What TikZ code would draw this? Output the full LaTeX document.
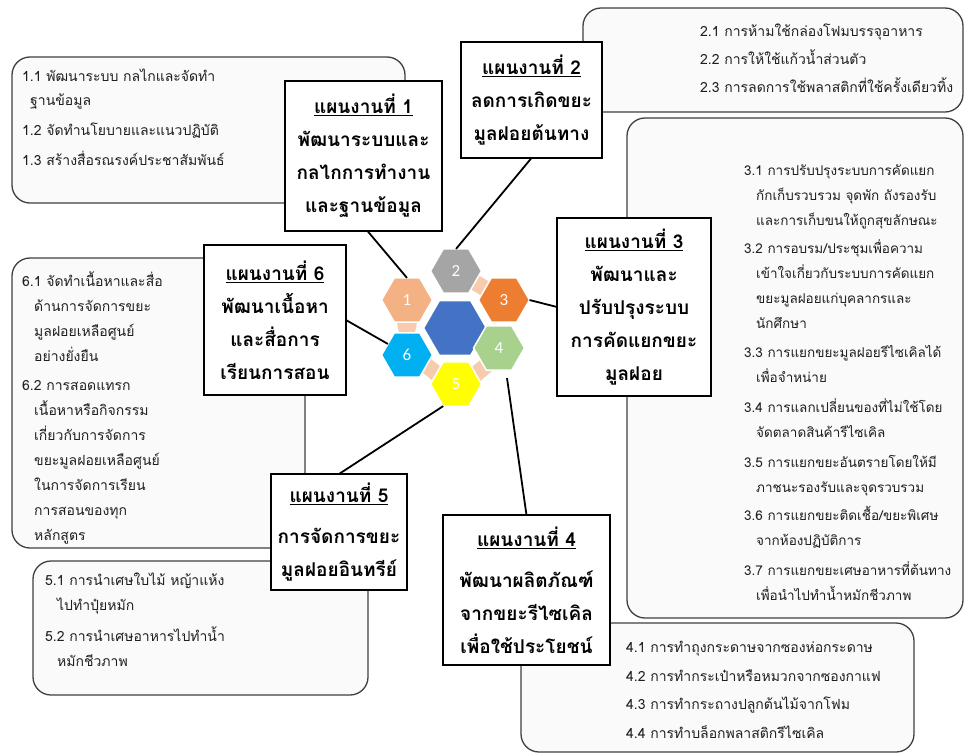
\documentclass[tikz,border=0pt]{standalone}
\usepackage{fontspec}
\setmainfont{Loma}[Script=Thai]
\newfontfamily\numfont{Carlito}
\usetikzlibrary{shapes.geometric,calc}
\definecolor{boxfill}{HTML}{FAFAFA}
\definecolor{boxline}{HTML}{404040}
\definecolor{hexA}{HTML}{F4B183}
\definecolor{hexB}{HTML}{A5A5A5}
\definecolor{hexC}{HTML}{ED7D31}
\definecolor{hexD}{HTML}{A9D18E}
\definecolor{hexE}{HTML}{FFFF00}
\definecolor{hexF}{HTML}{00B0F0}
\definecolor{hexM}{HTML}{4472C4}
\definecolor{pinkc}{HTML}{F8CBAD}
\newcommand{\ind}{\hspace*{12pt}}
\newcommand{\hd}[1]{{\fontsize{19}{33}\selectfont\underline{#1}}}
\newenvironment{lst}{\begin{tabular}[t]{@{}l@{}}}{\end{tabular}}
\tikzset{
  listbox/.style={draw=boxline, fill=boxfill, line width=1.3pt, rounded corners=18pt, inner sep=0pt, outer sep=0pt},
  titlebox/.style={draw=black, fill=white, line width=2.2pt, inner sep=0pt, outer sep=0pt, align=center, font=\bfseries\fontsize{19}{33}\selectfont},
  items/.style={anchor=base west, inner sep=0pt, text=black!88},
  hexbase/.style={regular polygon, regular polygon sides=6, draw=white, line width=1.5pt, inner sep=0pt, outer sep=0pt, text=white, font=\numfont\fontsize{17}{17}\selectfont},
  link/.style={draw=black, line width=1.8pt}
}
\begin{document}
\begin{tikzpicture}[x=1pt,y=-1pt]
\useasboundingbox (0,0) rectangle (965,755);
\fill[white] (0,0) rectangle (965,755);
% list boxes
\node[listbox, minimum width=393pt, minimum height=146pt] (b1) at (208.5,130) {};
\node[listbox, minimum width=380pt, minimum height=104pt] (b2) at (773,60) {};
\node[listbox, minimum width=336pt, minimum height=500pt] (b3) at (795,368) {};
\node[listbox, minimum width=393pt, minimum height=129pt] (b4) at (717.5,687.5) {};
\node[listbox, minimum width=335pt, minimum height=134pt] (b5) at (200.5,628) {};
\node[listbox, minimum width=293pt, minimum height=290pt] (b6) at (158.5,403) {};
% list texts
\node[items, font=\fontsize{14}{24}\selectfont] (b1t) at (22,81) {\begin{lst}1.1 พัฒนาระบบ กลไกและจัดทำ\\\hspace*{8pt}ฐานข้อมูล\\[6pt]1.2 จัดทำนโยบายและแนวปฏิบัติ\\[6pt]1.3 สร้างสื่อรณรงค์ประชาสัมพันธ์\end{lst}};
\node[items, font=\fontsize{14}{28}\selectfont] (b2t) at (700,36) {\begin{lst}2.1 การห้ามใช้กล่องโฟมบรรจุอาหาร\\2.2 การให้ใช้แก้วน้ำส่วนตัว\\2.3 การลดการใช้พลาสติกที่ใช้ครั้งเดียวทิ้ง\end{lst}};
\node[items, font=\fontsize{13.5}{25}\selectfont] (b3t) at (744,175.5) {\begin{lst}3.1 การปรับปรุงระบบการคัดแยก\\\ind กักเก็บรวบรวม จุดพัก ถังรองรับ\\\ind และการเก็บขนให้ถูกสุขลักษณะ\\[3pt]3.2 การอบรม/ประชุมเพื่อความ\\\ind เข้าใจเกี่ยวกับระบบการคัดแยก\\\ind ขยะมูลฝอยแก่บุคลากรและ\\\ind นักศึกษา\\[4pt]3.3 การแยกขยะมูลฝอยรีไซเคิลได้\\\ind เพื่อจำหน่าย\\[5pt]3.4 การแลกเปลี่ยนของที่ไม่ใช้โดย\\\ind จัดตลาดสินค้ารีไซเคิล\\[5pt]3.5 การแยกขยะอันตรายโดยให้มี\\\ind ภาชนะรองรับและจุดรวบรวม\\[3pt]3.6 การแยกขยะติดเชื้อ/ขยะพิเศษ\\\ind จากห้องปฏิบัติการ\\[5pt]3.7 การแยกขยะเศษอาหารที่ต้นทาง\\\ind เพื่อนำไปทำน้ำหมักชีวภาพ\end{lst}};
\node[items, font=\fontsize{14}{28.5}\selectfont] (b4t) at (626,652.5) {\begin{lst}4.1 การทำถุงกระดาษจากซองห่อกระดาษ\\4.2 การทำกระเป๋าหรือหมวกจากซองกาแฟ\\4.3 การทำกระถางปลูกต้นไม้จากโฟม\\4.4 การทำบล็อกพลาสติกรีไซเคิล\end{lst}};
\node[items, font=\fontsize{14}{25}\selectfont] (b5t) at (45,585) {\begin{lst}5.1 การนำเศษใบไม้ หญ้าแห้ง\\\ind ไปทำปุ๋ยหมัก\\[6pt]5.2 การนำเศษอาหารไปทำน้ำ\\\ind หมักชีวภาพ\end{lst}};
\node[items, font=\fontsize{14}{25}\selectfont] (b6t) at (22,286.5) {\begin{lst}6.1 จัดทำเนื้อหาและสื่อ\\\ind ด้านการจัดการขยะ\\\ind มูลฝอยเหลือศูนย์\\\ind อย่างยั่งยืน\\[4pt]6.2 การสอดแทรก\\\ind เนื้อหาหรือกิจกรรม\\\ind เกี่ยวกับการจัดการ\\\ind ขยะมูลฝอยเหลือศูนย์\\\ind ในการจัดการเรียน\\\ind การสอนของทุก\\\ind หลักสูตร\end{lst}};
% title boxes
\node[titlebox, minimum width=157pt, minimum height=150pt] (t1) at (363.5,156) {\hd{แผนงานที่ 1}\\พัฒนาระบบและ\\กลไกการทำงาน\\และฐานข้อมูล};
\node[titlebox, minimum width=141pt, minimum height=116pt] (t2) at (531.5,100) {\hd{แผนงานที่ 2}\\ลดการเกิดขยะ\\มูลฝอยต้นทาง};
\node[titlebox, minimum width=154pt, minimum height=178pt] (t3) at (634,307) {\hd{แผนงานที่ 3}\\พัฒนาและ\\ปรับปรุงระบบ\\การคัดแยกขยะ\\มูลฝอย};
\node[titlebox, minimum width=167pt, minimum height=150pt] (t4) at (526.5,590) {\hd{แผนงานที่ 4}\\[8pt]พัฒนาผลิตภัณฑ์\\จากขยะรีไซเคิล\\เพื่อใช้ประโยชน์};
\node[titlebox, minimum width=136pt, minimum height=116pt] (t5) at (339,532) {\hd{แผนงานที่ 5}\\[8pt]การจัดการขยะ\\มูลฝอยอินทรีย์};
\node[titlebox, minimum width=142pt, minimum height=150pt] (t6) at (275,320) {\hd{แผนงานที่ 6}\\พัฒนาเนื้อหา\\และสื่อการ\\เรียนการสอน};
% hex positions
\coordinate (c1) at (407,300);
\coordinate (c2) at (456,271);
\coordinate (c3) at (504,300);
\coordinate (c4) at (499,348);
\coordinate (c5) at (456,384);
\coordinate (c6) at (407,355);
% pink links between hexes
\fill[pinkc] (396,318) -- (418,318) -- (414,337) -- (400,337) -- cycle;
\fill[pinkc] (475.6,273.5) -- (492.7,283.8) -- (484.4,297.5) -- (467.3,287.2) -- cycle;
\fill[pinkc] (429.6,358) -- (442.6,368.3) -- (434.3,382) -- (421.3,371.7) -- cycle;
\fill[pinkc] (494.8,368.7) -- (479.5,381.6) -- (469.2,369.3) -- (484.5,356.4) -- cycle;
\node[hexbase, fill=hexM, minimum size=63pt] (hc) at (455,328) {};
\node[hexbase, fill=hexA, minimum size=51pt] (h1) at (c1) {1};
\node[hexbase, fill=hexB, minimum size=51pt] (h2) at (c2) {2};
\node[hexbase, fill=hexC, minimum size=51pt] (h3) at (c3) {3};
\node[hexbase, fill=hexD, minimum size=51pt] (h4) at (c4) {4};
\node[hexbase, fill=hexE, minimum size=51pt] (h5) at (c5) {5};
\node[hexbase, fill=hexF, minimum size=51pt] (h6) at (c6) {6};
% connectors
\draw[link] ([xshift=4pt]t1.south) -- (h1.north);
\draw[link] (t2.south) -- (h2.north);
\draw[link] (t3.west) -- (h3.east);
\draw[link] (t4.north) -- ($(h4.south)+(8,8)$);
\draw[link] (t5.north) -- (h5.240);
\draw[link] (t6.east) -- (h6.150);
\end{tikzpicture}
\end{document}
